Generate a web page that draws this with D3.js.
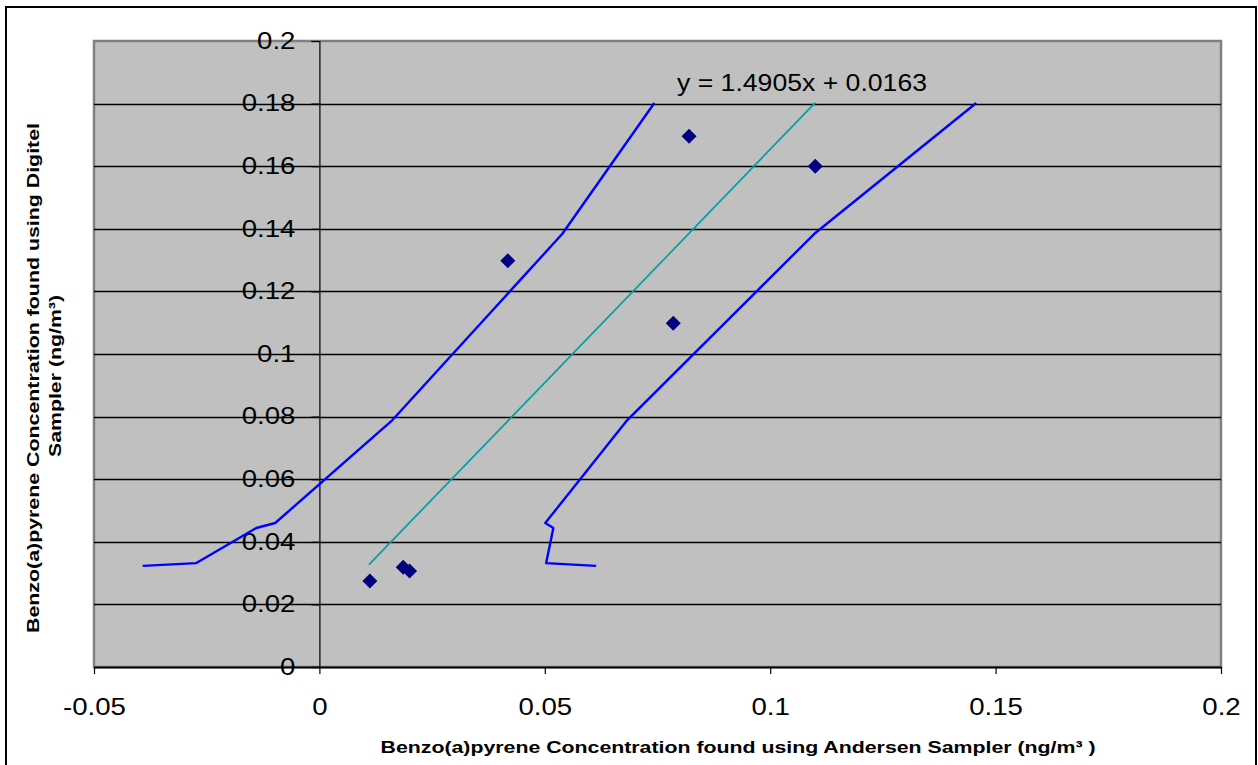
<!DOCTYPE html>
<html>
<head>
<meta charset="utf-8">
<script src="https://cdn.jsdelivr.net/npm/d3@7"></script>
<style>
  html, body { margin: 0; padding: 0; background: #ffffff; }
  svg { display: block; font-family: "Liberation Sans", Arial, sans-serif; }
</style>
</head>
<body>
<svg id="chart" width="1258" height="765"></svg>
<script>
// ---- data ----
const pointsX = [0.0112, 0.0186, 0.0200, 0.0418, 0.0785, 0.0820, 0.1100];
const pointsY = [0.0275, 0.0319, 0.0307, 0.1298, 0.1098, 0.1696, 0.1600];

const trendX = [0.0110, 0.1100];
const trendY = [0.0327, 0.1803];

const bandY     = [0.0323, 0.0332, 0.0444, 0.0460, 0.0789, 0.1384, 0.1802];
const lowerX    = [-0.0392, -0.0273, -0.0140, -0.0098, 0.0162, 0.0539, 0.0743];
const upperX    = [0.0614, 0.0503, 0.0519, 0.0501, 0.0683, 0.1098, 0.1457];

const xTicks = [-0.05, 0, 0.05, 0.1, 0.15, 0.2];
const xTickLabels = ["-0.05", "0", "0.05", "0.1", "0.15", "0.2"];
const yTicks = [0, 0.02, 0.04, 0.06, 0.08, 0.1, 0.12, 0.14, 0.16, 0.18, 0.2];
const yTickLabels = ["0", "0.02", "0.04", "0.06", "0.08", "0.1", "0.12", "0.14", "0.16", "0.18", "0.2"];

const equationText = "y = 1.4905x + 0.0163";
const xTitle = "Benzo(a)pyrene Concentration found using Andersen Sampler (ng/m\u00B3 )";
const yTitle1 = "Benzo(a)pyrene Concentration found using Digitel";
const yTitle2 = "Sampler (ng/m\u00B3)";

// ---- layout ----
const svg = d3.select("#chart");
const plot = { left: 94, top: 41, right: 1221, bottom: 667 };
const x = d3.scaleLinear().domain([-0.05, 0.2]).range([plot.left, plot.right]);
const y = d3.scaleLinear().domain([0, 0.2]).range([plot.bottom, plot.top]);
const STRETCH = 1.2;
const TICK_FS = 23;

function stretch(sel, k) {
  sel.each(function () {
    const w = this.getComputedTextLength();
    this.setAttribute("textLength", w * k);
    this.setAttribute("lengthAdjust", "spacingAndGlyphs");
  });
}

// outer border
svg.append("rect")
  .attr("x", 6).attr("y", 7).attr("width", 1250).attr("height", 770)
  .attr("fill", "#ffffff").attr("stroke", "#000").attr("stroke-width", 2);

// plot background
svg.append("rect")
  .attr("x", plot.left).attr("y", plot.top)
  .attr("width", plot.right - plot.left).attr("height", plot.bottom - plot.top)
  .attr("fill", "#c0c0c0").attr("stroke", "#808080").attr("stroke-width", 2.5);

// gridlines
svg.append("g").selectAll("line")
  .data(yTicks.filter(v => v > 0 && v < 0.2))
  .join("line")
  .attr("x1", plot.left).attr("x2", plot.right)
  .attr("y1", d => Math.round(y(d)) + 0.5).attr("y2", d => Math.round(y(d)) + 0.5)
  .attr("stroke", "#000").attr("stroke-width", 1.5);

// y axis at x = 0
const yAxis = d3.axisLeft(y).tickValues(yTicks)
  .tickFormat((d, i) => yTickLabels[i]).tickSize(8).tickPadding(16);
const gy = svg.append("g").attr("transform", `translate(${x(0)},0)`).call(yAxis);
gy.select(".domain").attr("stroke", "#000").attr("stroke-width", 1.2);
gy.selectAll(".tick line").attr("stroke", "#000").attr("stroke-width", 1.2);
gy.selectAll(".tick text").attr("font-size", TICK_FS).attr("fill", "#000")
  .attr("font-family", "Liberation Sans, Arial, sans-serif");

// x axis at y = 0
const xAxis = d3.axisBottom(x).tickValues(xTicks)
  .tickFormat((d, i) => xTickLabels[i]).tickSizeInner(7).tickSizeOuter(0).tickPadding(25);
const gx = svg.append("g").attr("transform", `translate(0,${y(0)})`).call(xAxis);
gx.select(".domain").attr("stroke", "#000").attr("stroke-width", 2);
gx.selectAll(".tick line").attr("stroke", "#000").attr("stroke-width", 1.2);
gx.selectAll(".tick text").attr("font-size", TICK_FS).attr("fill", "#000")
  .attr("font-family", "Liberation Sans, Arial, sans-serif");

// confidence bands
const line = d3.line().x(d => x(d[0])).y(d => y(d[1]));
svg.append("path").datum(lowerX.map((v, i) => [v, bandY[i]]))
  .attr("d", line).attr("fill", "none").attr("stroke", "#0000ff").attr("stroke-width", 2.4)
  .attr("stroke-linejoin", "round");
svg.append("path").datum(upperX.map((v, i) => [v, bandY[i]]))
  .attr("d", line).attr("fill", "none").attr("stroke", "#0000ff").attr("stroke-width", 2.4)
  .attr("stroke-linejoin", "round");

// trend line
svg.append("path").datum(trendX.map((v, i) => [v, trendY[i]]))
  .attr("d", line).attr("fill", "none").attr("stroke", "#00a0a0").attr("stroke-width", 1.7);

// points (diamonds)
const r = 7.5;
svg.append("g").selectAll("path")
  .data(pointsX.map((v, i) => [v, pointsY[i]]))
  .join("path")
  .attr("d", d => {
    const cx = x(d[0]), cy = y(d[1]);
    return `M${cx},${cy - r}L${cx + r},${cy}L${cx},${cy + r}L${cx - r},${cy}Z`;
  })
  .attr("fill", "#000080");

// equation label
const eq = svg.append("text")
  .attr("x", 677).attr("y", 91)
  .attr("font-size", TICK_FS).attr("fill", "#000")
  .text(equationText);

// axis titles
const TITLE_FS = 17;
const xt = svg.append("text")
  .attr("x", 738).attr("y", 753).attr("text-anchor", "middle")
  .attr("font-size", TITLE_FS).attr("font-weight", "bold").attr("fill", "#000")
  .text(xTitle);
const yt1 = svg.append("text")
  .attr("transform", "translate(39,378) rotate(-90)").attr("text-anchor", "middle")
  .attr("font-size", TITLE_FS).attr("font-weight", "bold").attr("fill", "#000")
  .text(yTitle1);
const yt2 = svg.append("text")
  .attr("transform", "translate(61,376) rotate(-90)").attr("text-anchor", "middle")
  .attr("font-size", TITLE_FS).attr("font-weight", "bold").attr("fill", "#000")
  .text(yTitle2);

// horizontal stretch to match reference text proportions
stretch(gy.selectAll(".tick text"), STRETCH);
stretch(gx.selectAll(".tick text"), STRETCH);
stretch(eq, 250 / eq.node().getComputedTextLength());
const tk = 715 / xt.node().getComputedTextLength();
stretch(xt, tk);
stretch(yt1, 510 / yt1.node().getComputedTextLength());
stretch(yt2, tk);
</script>
</body>
</html>
